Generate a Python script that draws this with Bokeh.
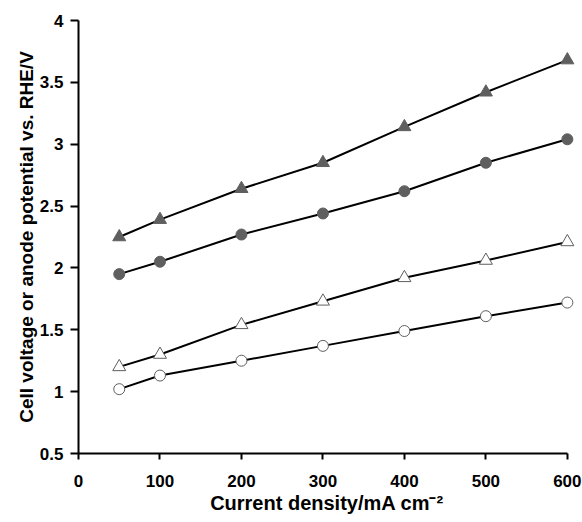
from bokeh.plotting import figure
from bokeh.models import Range1d, FixedTicker
from bokeh.embed import file_html
from bokeh.resources import INLINE

current_density = [50, 100, 200, 300, 400, 500, 600]
filled_triangle = [2.25, 2.39, 2.64, 2.85, 3.14, 3.42, 3.68]
filled_circle = [1.95, 2.05, 2.27, 2.44, 2.62, 2.85, 3.04]
open_triangle = [1.20, 1.30, 1.54, 1.73, 1.92, 2.06, 2.21]
open_circle = [1.02, 1.13, 1.25, 1.37, 1.49, 1.61, 1.72]
x_ticks = [0, 100, 200, 300, 400, 500, 600]
y_ticks = [0.5, 1, 1.5, 2, 2.5, 3, 3.5, 4]

FONT = "Liberation Sans"
GREY = "#5f5f5f"

p = figure(width=582, height=522, output_backend="svg", toolbar_location=None,
           x_range=Range1d(0, 610), y_range=Range1d(0.5, 4.0),
           min_border_left=78, min_border_right=7, min_border_top=20, min_border_bottom=69)
p.outline_line_color = None
p.xgrid.visible = False
p.ygrid.visible = False
p.background_fill_color = "white"
p.border_fill_color = "white"

for ax in (p.xaxis[0], p.yaxis[0]):
    ax.axis_line_width = 2
    ax.axis_line_color = "black"
    ax.major_tick_line_width = 2
    ax.major_tick_in = 0
    ax.minor_tick_line_color = None
    ax.major_label_text_font = FONT
    ax.major_label_text_font_style = "bold"
    ax.major_label_text_font_size = "17px"
    ax.major_label_text_color = "black"
    ax.axis_label_text_font = FONT
    ax.axis_label_text_font_style = "bold"
    ax.axis_label_text_color = "black"

p.xaxis[0].ticker = FixedTicker(ticks=x_ticks)
p.xaxis[0].bounds = (0, 600)
p.xaxis[0].major_tick_out = 6
p.xaxis[0].axis_label = "Current density/mA cm\u207b\u00b2"
p.xaxis[0].axis_label_text_font_size = "20px"
p.xaxis[0].major_label_standoff = 15
p.xaxis[0].axis_label_standoff = 2
p.yaxis[0].ticker = FixedTicker(ticks=y_ticks)
p.yaxis[0].bounds = (0.5, 4)
p.yaxis[0].major_tick_out = 8
p.yaxis[0].axis_label = "Cell voltage or anode potential vs. RHE/V"
p.yaxis[0].axis_label_text_font_size = "19px"
p.yaxis[0].major_label_standoff = 7
p.yaxis[0].axis_label_standoff = 0

for ys in (filled_triangle, filled_circle, open_triangle, open_circle):
    p.line(current_density, ys, line_color="black", line_width=2)

p.scatter(current_density, filled_triangle, marker="triangle", size=13,
          fill_color=GREY, line_color=GREY)
p.scatter(current_density, filled_circle, marker="circle", size=11,
          fill_color=GREY, line_color=GREY)
p.scatter(current_density, open_triangle, marker="triangle", size=13,
          fill_color="white", line_color=GREY, line_width=1)
p.scatter(current_density, open_circle, marker="circle", size=11,
          fill_color="white", line_color=GREY, line_width=1)

open("out.html", "w").write(file_html(p, INLINE))
